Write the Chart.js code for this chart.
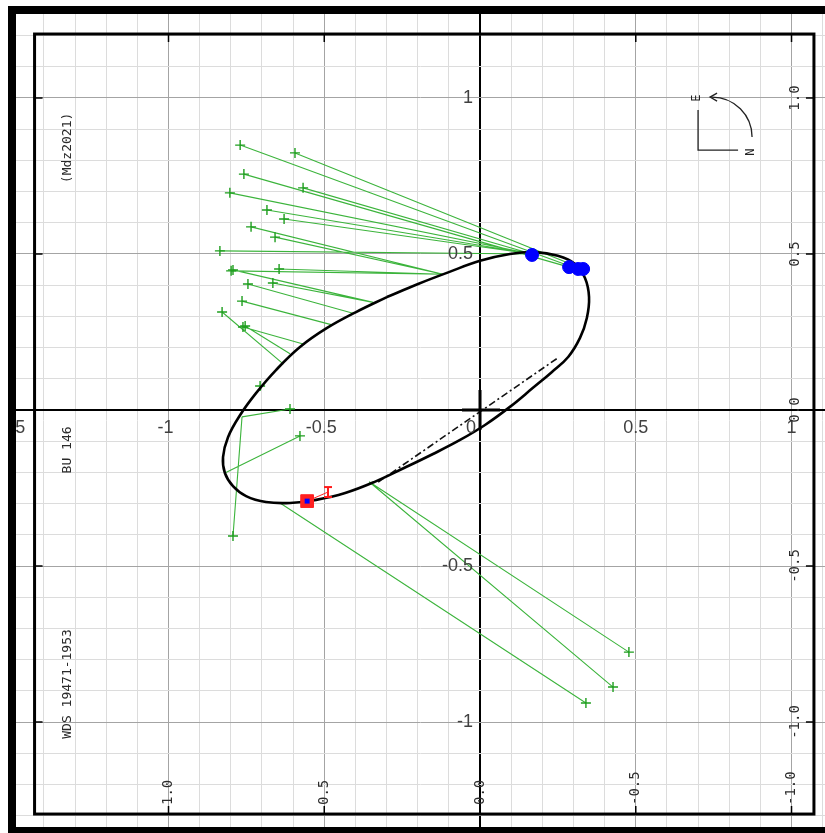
<!DOCTYPE html>
<html>
<head>
<meta charset="utf-8">
<script src="https://cdn.jsdelivr.net/npm/chart.js@4.4.1/dist/chart.umd.min.js"></script>
<style>
  html, body { margin: 0; padding: 0; background: #fff; overflow: hidden; }
  canvas { display: block; }
</style>
</head>
<body>
<canvas id="orbitChart" width="825" height="833"></canvas>
<script>
// fitted orbit, points (arcsec)
const orbitX = [-0.299, -0.199, -0.100, 0.000, 0.096, 0.177, 0.250, 0.305, 0.337, 0.350, 0.343, 0.321, 0.283, 0.231, 0.170, 0.096, 0.016, -0.064, -0.151, -0.244, -0.340, -0.433, -0.526, -0.610, -0.687, -0.751, -0.793, -0.819, -0.825, -0.809, -0.770, -0.719, -0.655, -0.578, -0.491, -0.398, -0.299];
const orbitY = [0.362, 0.404, 0.442, 0.478, 0.500, 0.506, 0.494, 0.468, 0.423, 0.362, 0.295, 0.231, 0.170, 0.122, 0.071, 0.010, -0.048, -0.096, -0.141, -0.186, -0.231, -0.266, -0.288, -0.298, -0.295, -0.276, -0.244, -0.202, -0.151, -0.087, -0.016, 0.054, 0.128, 0.202, 0.263, 0.314, 0.362];

// visual observations (green +) and their positions on the orbit
const obsX = [-0.770, -0.594, -0.758, -0.568, -0.803, -0.684, -0.629, -0.735, -0.658, -0.835, -0.645, -0.799, -0.793, -0.665, -0.745, -0.764, -0.828, -0.761, -0.754, -0.706, -0.610, -0.793, -0.578, 0.478, 0.427, 0.340];
const obsY = [0.849, 0.824, 0.756, 0.712, 0.696, 0.641, 0.612, 0.587, 0.554, 0.510, 0.452, 0.446, 0.449, 0.407, 0.404, 0.349, 0.314, 0.266, 0.269, 0.077, 0.003, -0.404, -0.083, -0.776, -0.888, -0.939];
const fitX = [0.305, 0.331, 0.286, 0.167, 0.167, 0.167, 0.167, -0.119, -0.119, 0.167, -0.119, -0.119, -0.343, -0.343, -0.408, -0.472, -0.631, -0.562, -0.610, -0.703, -0.764, -0.764, -0.819, -0.356, -0.356, -0.642];
const fitY = [0.455, 0.452, 0.458, 0.500, 0.500, 0.500, 0.500, 0.435, 0.435, 0.500, 0.435, 0.435, 0.345, 0.345, 0.310, 0.272, 0.147, 0.210, 0.180, 0.065, -0.022, -0.022, -0.202, -0.230, -0.230, -0.298];

// speckle measures (blue)
const speckleX = [0.167, 0.286, 0.315, 0.331];
const speckleY = [0.497, 0.458, 0.452, 0.452];

// last measure (red) with its error bar
const lastX = [-0.555];
const lastY = [-0.292];
const errX = [-0.488];
const errLow = [-0.279];
const errHigh = [-0.247];

// line of nodes
const nodeX = [-0.327, 0.250];
const nodeY = [-0.231, 0.167];

// tick labels
const xTickVals = [-1.5, -1, -0.5, 0, 0.5, 1];
const xTickLabels = ['-1.5', '-1', '-0.5', '0', '0.5', '1'];
const yTickVals = [1, 0.5, -0.5, -1];
const yTickLabels = ['1', '0.5', '-0.5', '-1'];
const bottomTickVals = [-1, -0.5, 0, 0.5, 1];
const bottomTickLabels = ['1.0', '0.5', '0.0', '-0.5', '-1.0'];
const rightTickVals = [1, 0.5, 0, -0.5, -1];
const rightTickLabels = ['1.0', '0.5', '0.0', '-0.5', '-1.0'];
const frameTickVals = [-1, -0.5, 0, 0.5, 1];

const sideTexts = ['(Mdz2021)', 'BU 146', 'WDS 19471-1953'];

const pts = (xs, ys) => xs.map((v, i) => ({ x: v, y: ys[i] }));

const residuals = [];
obsX.forEach((v, i) => {
    residuals.push({ x: v, y: obsY[i] }, { x: fitX[i], y: fitY[i] }, { x: null, y: null });
});

const errBar = [{ x: errX[0], y: errLow[0] }, { x: errX[0], y: errHigh[0] }];
const errLink = [{ x: lastX[0], y: lastY[0] }, { x: errX[0], y: (errLow[0] + errHigh[0]) / 2 }];

function gridTicks(from, to) {
    const out = [];
    for (let k = Math.ceil(from * 10); k <= Math.floor(to * 10); k++) out.push({ value: k / 10 });
    return out;
}

function gridColor(c) {
    const k = Math.round(c.tick.value * 10);
    if (k === 0) return '#000000';
    if (k % 5 === 0) return '#a4a4a4';
    return '#dcdcdc';
}

function gridWidth(c) {
    return Math.round(c.tick.value * 10) === 0 ? 2 : 1;
}

function rotText(ctx, text, x, y, align) {
    ctx.save();
    ctx.translate(x, y);
    ctx.rotate(-Math.PI / 2);
    ctx.textAlign = align;
    ctx.textBaseline = 'middle';
    ctx.fillText(text, 0, 0);
    ctx.restore();
}

// frame, labels, compass
const decorPlugin = {
    id: 'decor',
    afterDraw(chart) {
        const { ctx, chartArea: a } = chart;
        const px = v => chart.scales.x.getPixelForValue(v);
        const py = v => chart.scales.y.getPixelForValue(v);
        const x0 = px(0), y0 = py(0);

        ctx.save();
        ctx.beginPath();
        ctx.rect(a.left, a.top, a.right - a.left, a.bottom - a.top);
        ctx.clip();

        // inner frame
        const fl = px(-1.43), fr = px(1.072), ft = py(1.205), fb = py(-1.295);
        ctx.strokeStyle = '#000';
        ctx.lineWidth = 3;
        ctx.strokeRect(fl, ft, fr - fl, fb - ft);

        ctx.lineWidth = 1.5;
        ctx.beginPath();
        frameTickVals.forEach(v => {
            ctx.moveTo(px(v), ft); ctx.lineTo(px(v), ft + 8);
            ctx.moveTo(px(v), fb); ctx.lineTo(px(v), fb - 8);
            ctx.moveTo(fl, py(v)); ctx.lineTo(fl + 8, py(v));
            ctx.moveTo(fr, py(v)); ctx.lineTo(fr - 8, py(v));
        });
        ctx.stroke();

        // primary star
        ctx.lineWidth = 3;
        ctx.beginPath();
        ctx.moveTo(x0 - 18, y0); ctx.lineTo(x0 + 20, y0);
        ctx.moveTo(x0, y0 - 20); ctx.lineTo(x0, y0 + 20);
        ctx.stroke();

        // axis numbers
        ctx.fillStyle = '#404040';
        ctx.font = '18px "Liberation Sans", Arial, sans-serif';
        ctx.textBaseline = 'alphabetic';
        xTickVals.forEach((v, i) => {
            if (v === 0) {
                ctx.textAlign = 'right';
                ctx.fillText(xTickLabels[i], x0 - 4, y0 + 23);
            } else {
                ctx.textAlign = 'center';
                ctx.fillText(xTickLabels[i], px(v) - (v < 0 ? 3 : 0), y0 + 23);
            }
        });
        ctx.textAlign = 'right';
        ctx.textBaseline = 'middle';
        yTickVals.forEach((v, i) => ctx.fillText(yTickLabels[i], x0 - 7, py(v)));

        // rotated scale labels
        ctx.fillStyle = '#2a2a2a';
        ctx.font = '14px "DejaVu Sans Mono", monospace';
        bottomTickVals.forEach((v, i) => rotText(ctx, bottomTickLabels[i], px(v), fb - 9, 'left'));
        rightTickVals.forEach((v, i) => rotText(ctx, rightTickLabels[i], fr - 19, py(v), 'center'));

        ctx.font = '13px "DejaVu Sans Mono", monospace';
        const sx = px(-1.323);
        rotText(ctx, sideTexts[0], sx, py(0.840), 'center');
        rotText(ctx, sideTexts[1], sx, py(-0.128), 'center');
        rotText(ctx, sideTexts[2], sx, py(-0.878), 'center');

        // N-E compass
        const cx = px(0.700), cy = py(0.833);
        ctx.strokeStyle = '#222';
        ctx.lineWidth = 1.3;
        ctx.beginPath();
        ctx.moveTo(cx, cy - 40); ctx.lineTo(cx, cy); ctx.lineTo(cx + 40, cy);
        ctx.stroke();
        ctx.beginPath();
        ctx.arc(cx + 14, cy - 13, 40, 0, -Math.PI / 2, true);
        ctx.stroke();
        ctx.beginPath();
        ctx.moveTo(cx + 19, cy - 57); ctx.lineTo(cx + 12, cy - 53); ctx.lineTo(cx + 19, cy - 49);
        ctx.stroke();
        ctx.fillStyle = '#222';
        ctx.font = '12px "DejaVu Sans Mono", monospace';
        rotText(ctx, 'E', cx - 1, cy - 52, 'center');
        rotText(ctx, 'N', cx + 53, cy + 2, 'center');
        ctx.restore();

        // outer frame
        ctx.fillStyle = '#000';
        ctx.fillRect(a.left - 8, a.top - 8, 8, a.bottom - a.top + 14);
        ctx.fillRect(a.left - 8, a.top - 8, a.right - a.left + 8, 8);
        ctx.fillRect(a.left - 8, a.bottom, a.right - a.left + 8, 6);
    }
};

new Chart(document.getElementById('orbitChart'), {
    type: 'scatter',
    data: {
        datasets: [
            {
                label: 'residuals',
                data: residuals,
                showLine: true,
                spanGaps: false,
                borderColor: '#3cb43c',
                borderWidth: 1.1,
                pointRadius: 0,
                order: 7
            },
            {
                label: 'visual',
                data: pts(obsX, obsY),
                pointStyle: 'cross',
                pointRadius: 5,
                borderColor: '#1e9e1e',
                borderWidth: 1.4,
                order: 6
            },
            {
                label: 'nodes',
                data: pts(nodeX, nodeY),
                showLine: true,
                borderColor: '#111',
                borderWidth: 1.6,
                borderDash: [7, 3, 2, 3],
                pointRadius: 0,
                order: 5
            },
            {
                label: 'orbit',
                data: pts(orbitX, orbitY),
                showLine: true,
                tension: 0.4,
                borderColor: '#000',
                borderWidth: 2.6,
                pointRadius: 0,
                order: 4
            },
            {
                label: 'speckle',
                data: pts(speckleX, speckleY),
                pointRadius: 6.5,
                backgroundColor: '#0000ff',
                borderColor: '#0000ff',
                borderWidth: 1,
                order: 3
            },
            {
                label: 'error link',
                data: errLink,
                showLine: true,
                borderColor: '#ff2020',
                borderWidth: 1,
                pointRadius: 0,
                order: 2
            },
            {
                label: 'error bar',
                data: errBar,
                showLine: true,
                borderColor: '#ff1a1a',
                borderWidth: 2,
                pointStyle: 'line',
                pointRadius: 4,
                pointBorderWidth: 2,
                order: 2
            },
            {
                label: 'last',
                data: pts(lastX, lastY),
                pointStyle: 'rect',
                pointRadius: 9,
                backgroundColor: '#ff2020',
                borderColor: '#ff2020',
                borderWidth: 1,
                order: 1
            },
            {
                label: 'last core',
                data: pts(lastX, lastY),
                pointStyle: 'rect',
                pointRadius: 3.5,
                backgroundColor: '#0000ff',
                borderColor: '#0000ff',
                borderWidth: 0,
                order: 0
            }
        ]
    },
    options: {
        responsive: false,
        animation: false,
        layout: { autoPadding: false, padding: { left: 16, top: 14, right: 0, bottom: 6 } },
        plugins: {
            legend: { display: false },
            tooltip: { enabled: false }
        },
        scales: {
            x: {
                type: 'linear',
                min: -1.4896,
                max: 1.1075,
                afterBuildTicks: s => { s.ticks = gridTicks(s.min, s.max); },
                ticks: { display: false },
                border: { display: false },
                grid: { color: gridColor, lineWidth: gridWidth, drawTicks: false }
            },
            y: {
                type: 'linear',
                min: -1.3365,
                max: 1.2692,
                afterBuildTicks: s => { s.ticks = gridTicks(s.min, s.max); },
                ticks: { display: false },
                border: { display: false },
                grid: { color: gridColor, lineWidth: gridWidth, drawTicks: false }
            }
        }
    },
    plugins: [decorPlugin]
});
</script>
</body>
</html>
